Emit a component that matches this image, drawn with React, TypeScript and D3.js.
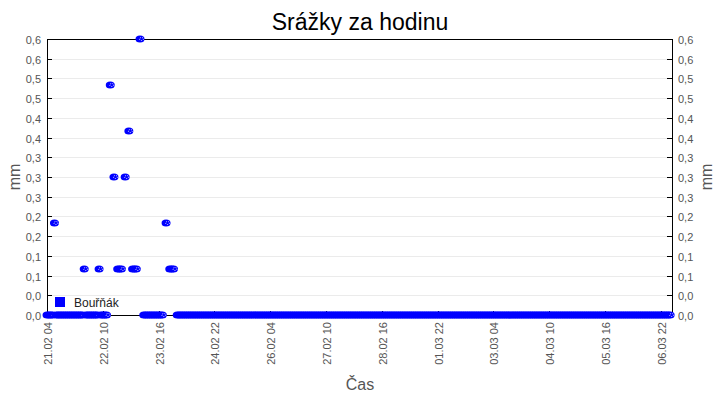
import React from "react";
import * as d3 from "d3";

const title = "Srážky za hodinu";
const seriesName = "Bouřňák";
const yLabel = "mm";
const xLabel = "Čas";

// hour offsets from 21.02 04:00
const startDate = new Date(2026, 1, 21, 4, 0, 0);
const totalHours = 336;
// hour ranges (inclusive) recorded as 0 mm
const zeroRanges: [number, number][] = [
  [0, 19],
  [21, 27],
  [29, 32],
  [52, 62],
  [70, 335],
];
// hours with rain
const rainHours = [4, 20, 28, 34, 36, 38, 39, 40, 42, 44, 46, 47, 48, 50, 64, 66, 67, 68];
const rainValues = [0.2, 0.1, 0.1, 0.5, 0.3, 0.1, 0.1, 0.1, 0.3, 0.4, 0.1, 0.1, 0.1, 0.6, 0.2, 0.1, 0.1, 0.1];

const xTickHours = [0, 30, 60, 90, 120, 150, 180, 210, 240, 270, 300, 330];
const xTickLabels = [
  "21.02 04", "22.02 10", "23.02 16", "24.02 22", "26.02 04", "27.02 10",
  "28.02 16", "01.03 22", "03.03 04", "04.03 10", "05.03 16", "06.03 22",
];
const yMax = 0.6;
const yTickCount = 15;

const W = 720, H = 400;
const left = 47, right = 672, top = 39, bottom = 315;

export default function App() {
  const x = d3
    .scaleTime()
    .domain([startDate, d3.timeHour.offset(startDate, totalHours)])
    .range([left, right]);
  const y = d3.scaleLinear().domain([0, yMax]).range([bottom, top]);

  const valueByHour = new Map<number, number>();
  zeroRanges.forEach(([a, b]) => {
    for (let h = a; h <= b; h++) valueByHour.set(h, 0);
  });
  rainHours.forEach((h, i) => valueByHour.set(h, rainValues[i]));
  const points = Array.from(valueByHour.entries())
    .sort((a, b) => a[0] - b[0])
    .map(([h, v]) => ({ t: d3.timeHour.offset(startDate, h), v }));

  const yTicks = d3.range(yTickCount).map((i) => (i * yMax) / (yTickCount - 1));
  const fmt = (v: number) => d3.format(".1f")(v).replace(".", ",");
  const font = "'Liberation Sans', Arial, sans-serif";
  const tickColor = "#555";

  return (
    <svg
      width={W}
      height={H}
      style={{ position: "absolute", left: 0, top: 0, background: "#fff" }}
      fontFamily={font}
    >
      <rect x={0} y={0} width={W} height={H} fill="#fff" />
      <text x={360} y={30} textAnchor="middle" fontSize={23} fill="#000">
        {title}
      </text>
      {/* gridlines */}
      {yTicks.slice(1, -1).map((t, i) => (
        <line key={"g" + i} x1={left} x2={right} y1={Math.round(y(t)) + 0.5} y2={Math.round(y(t)) + 0.5} stroke="#ebebeb" />
      ))}
      {/* y ticks and labels */}
      {yTicks.map((t, i) => {
        const yy = Math.round(y(t)) + 0.5;
        return (
          <g key={"y" + i}>
            <line x1={left} x2={left + 5} y1={yy} y2={yy} stroke="#000" />
            <line x1={right - 5} x2={right} y1={yy} y2={yy} stroke="#000" />
            <text x={41} y={yy + 4} textAnchor="end" fontSize={11} fill={tickColor}>
              {fmt(t)}
            </text>
            <text x={678} y={yy + 4} textAnchor="start" fontSize={11} fill={tickColor}>
              {fmt(t)}
            </text>
          </g>
        );
      })}
      {/* frame */}
      <line x1={left + 0.5} x2={left + 0.5} y1={top} y2={bottom} stroke="#000" />
      <line x1={right + 0.5} x2={right + 0.5} y1={top} y2={bottom} stroke="#000" />
      <line x1={left} x2={right} y1={top + 0.5} y2={top + 0.5} stroke="#000" />
      <line x1={left} x2={right} y1={bottom + 0.5} y2={bottom + 0.5} stroke="#000" />
      {/* x ticks */}
      {xTickHours.map((h, i) => {
        const xx = Math.round(x(d3.timeHour.offset(startDate, h))) + 0.5;
        return (
          <g key={"x" + i}>
            <line x1={xx} x2={xx} y1={bottom - 4} y2={bottom} stroke="#000" />
            <text
              transform={`translate(${xx + 4},${322}) rotate(-90)`}
              textAnchor="end"
              fontSize={11}
              fill={tickColor}
            >
              {xTickLabels[i]}
            </text>
          </g>
        );
      })}
      {/* points */}
      {points.map((p, i) => {
        const cx = x(p.t);
        const cy = y(p.v);
        return (
          <g key={"p" + i}>
            <ellipse cx={cx} cy={cy} rx={4.5} ry={3.5} fill="#0000ff" />
            <ellipse cx={cx + 1.5} cy={cy} rx={2} ry={1.5} fill="none" stroke="#fff" strokeWidth={0.8} strokeDasharray="1 1" />
          </g>
        );
      })}
      {/* legend */}
      <rect x={55} y={297} width={10} height={10} fill="#0000ff" />
      <text x={74} y={307} fontSize={12} fill="#222">
        {seriesName}
      </text>
      {/* axis titles */}
      <text transform="translate(20,177) rotate(-90)" textAnchor="middle" fontSize={16} fill={tickColor}>
        {yLabel}
      </text>
      <text transform="translate(712,177) rotate(-90)" textAnchor="middle" fontSize={16} fill={tickColor}>
        {yLabel}
      </text>
      <text x={360} y={390} textAnchor="middle" fontSize={16} fill={tickColor}>
        {xLabel}
      </text>
    </svg>
  );
}
